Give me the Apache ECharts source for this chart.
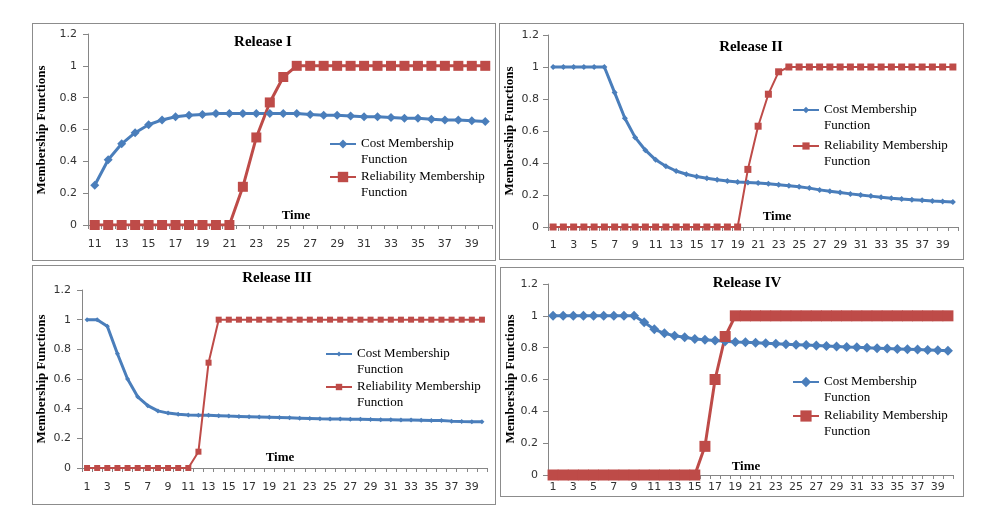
<!DOCTYPE html>
<html>
<head>
<meta charset="utf-8">
<script src="https://cdn.jsdelivr.net/npm/echarts@6/dist/echarts.min.js"></script>
<style>
html,body{margin:0;padding:0;background:#fff;}
body{width:982px;height:529px;position:relative;overflow:hidden;}
.panel{position:absolute;box-sizing:border-box;border:1px solid #8c8c8c;background:#fff;}
</style>
</head>
<body>
<div id="p1" class="panel" style="left:32px;top:23px;width:464px;height:238px"></div>
<div id="p2" class="panel" style="left:499px;top:23px;width:465px;height:237px"></div>
<div id="p3" class="panel" style="left:32px;top:265px;width:464px;height:240px"></div>
<div id="p4" class="panel" style="left:500px;top:267px;width:464px;height:230px"></div>
<script>
// time axis categories
const timeI = [11,12,13,14,15,16,17,18,19,20,21,22,23,24,25,26,27,28,29,30,31,32,33,34,35,36,37,38,39,40];
const time40 = [1,2,3,4,5,6,7,8,9,10,11,12,13,14,15,16,17,18,19,20,21,22,23,24,25,26,27,28,29,30,31,32,33,34,35,36,37,38,39,40];

// Release I
const costI = [0.25,0.41,0.51,0.58,0.63,0.66,0.68,0.69,0.695,0.70,
  0.70,0.70,0.70,0.70,0.70,0.70,0.695,0.69,0.69,0.685,
  0.68,0.68,0.675,0.67,0.67,0.665,0.66,0.66,0.655,0.65];
const relI = [0,0,0,0,0,0,0,0,0,0,0,0.24,0.55,0.77,0.93,
  1,1,1,1,1,1,1,1,1,1,1,1,1,1,1];

// Release II
const costII = [1,1,1,1,1,1,0.84,0.68,0.56,0.48,
  0.42,0.38,0.35,0.33,0.315,0.305,0.295,0.288,0.281,0.278,
  0.275,0.27,0.264,0.258,0.252,0.243,0.232,0.223,0.215,0.207,
  0.2,0.193,0.186,0.18,0.175,0.171,0.167,0.163,0.16,0.157];
const relII = [0,0,0,0,0,0,0,0,0,0,0,0,0,0,0,0,0,0,0,0.36,
  0.63,0.83,0.97,1,1,1,1,1,1,1,1,1,1,1,1,1,1,1,1,1];

// Release III
const costIII = [1,1,0.955,0.77,0.6,0.48,0.42,0.385,0.37,0.363,
  0.358,0.356,0.355,0.353,0.35,0.348,0.346,0.344,0.342,0.34,
  0.338,0.336,0.334,0.332,0.331,0.33,0.329,0.328,0.327,0.326,
  0.325,0.324,0.323,0.322,0.321,0.32,0.316,0.313,0.312,0.311];
const relIII = [0,0,0,0,0,0,0,0,0,0,0,0.11,0.71,1,1,1,1,1,1,1,
  1,1,1,1,1,1,1,1,1,1,1,1,1,1,1,1,1,1,1,1];

// Release IV
const costIV = [1,1,1,1,1,1,1,1,1,0.96,
  0.915,0.89,0.875,0.865,0.855,0.85,0.845,0.84,0.836,0.834,
  0.831,0.828,0.825,0.822,0.819,0.816,0.813,0.81,0.807,0.804,
  0.802,0.799,0.797,0.794,0.792,0.79,0.788,0.786,0.783,0.781];
const relIV = [0,0,0,0,0,0,0,0,0,0,0,0,0,0,0,0.18,0.6,0.87,1,1,
  1,1,1,1,1,1,1,1,1,1,1,1,1,1,1,1,1,1,1,1];

const COST = 'Cost Membership Function';
const REL = 'Reliability Membership Function';
const blue = '#4a7ebb';
const red = '#be4b48';
const axisGrey = '#868686';

const panels = [
  {id:'p1', title:'Release I', time:timeI, cost:costI, rel:relI,
   grid:{left:55, top:10, right:3, bottom:35}, titleXY:[230,18], timeXY:[263,192], yNameXY:[9,106],
   xMargin:14, yMargin:11,
   leg:{x:296, y1:120, y2:153}, costSym:9, relSym:10, costW:3, relW:3},
  {id:'p2', title:'Release II', time:time40, cost:costII, rel:relII,
   grid:{left:48, top:11, right:5, bottom:32}, titleXY:[251,23], timeXY:[277,193], yNameXY:[10,107],
   xMargin:13, yMargin:9,
   leg:{x:292, y1:86, y2:122}, costSym:6, relSym:7, costW:3, relW:2},
  {id:'p3', title:'Release III', time:time40, cost:costIII, rel:relIII,
   grid:{left:49, top:24, right:8, bottom:36}, titleXY:[244,12], timeXY:[247,192], yNameXY:[9,113],
   xMargin:14, yMargin:11,
   leg:{x:292, y1:88, y2:121}, costSym:5, relSym:6, costW:3, relW:2},
  {id:'p4', title:'Release IV', time:time40, cost:costIV, rel:relIV,
   grid:{left:47, top:16, right:10, bottom:21}, titleXY:[246,15], timeXY:[245,199], yNameXY:[10,111],
   xMargin:7, yMargin:10,
   leg:{x:291, y1:114, y2:148}, costSym:10, relSym:11, costW:3, relW:3}
];

// legend text: empty first line so the icon sits beside "... Membership"
function legendItem(name, p, top, sym) {
  return {
    data: [name],
    orient: 'vertical',
    left: p.leg.x,
    top: top - 24,
    padding: 0,
    itemWidth: 26,
    itemHeight: Math.round(sym / 0.8),
    selectedMode: false,
    formatter: (n) => '\n' + n.replace(' Function', '\nFunction'),
    textStyle: {fontFamily: 'Liberation Serif', fontSize: 13, color: '#000', lineHeight: 16}
  };
}

function makeOption(p) {
  return {
    animation: false,
    textStyle: {fontFamily: 'DejaVu Sans'},
    grid: Object.assign({outerBoundsMode: 'none', containLabel: false}, p.grid),
    graphic: [
      {type: 'text', x: p.titleXY[0], y: p.titleXY[1],
       style: {text: p.title, font: 'bold 15px "Liberation Serif"', fill: '#000', align: 'center', verticalAlign: 'middle'}},
      {type: 'text', x: p.timeXY[0], y: p.timeXY[1],
       style: {text: 'Time', font: 'bold 13px "Liberation Serif"', fill: '#000', align: 'center', verticalAlign: 'middle'}},
      {type: 'text', x: p.yNameXY[0], y: p.yNameXY[1], rotation: Math.PI / 2,
       style: {text: 'Membership Functions', font: 'bold 13px "Liberation Serif"', fill: '#000', align: 'center', verticalAlign: 'middle'}}
    ],
    xAxis: {
      type: 'category',
      data: p.time,
      boundaryGap: true,
      axisLine: {lineStyle: {color: axisGrey, width: 1}},
      axisTick: {show: true, interval: 0, length: 4, lineStyle: {color: axisGrey}},
      axisLabel: {interval: 1, fontSize: 11, color: '#333', margin: p.xMargin},
      splitLine: {show: false}
    },
    yAxis: {
      type: 'value',
      min: 0, max: 1.2, interval: 0.2,
      axisLine: {show: true, lineStyle: {color: axisGrey, width: 1}},
      axisTick: {show: true, length: 5, lineStyle: {color: axisGrey}},
      axisLabel: {fontSize: 11, color: '#333', margin: p.yMargin},
      splitLine: {show: false}
    },
    legend: [legendItem(COST, p, p.leg.y1, p.costSym), legendItem(REL, p, p.leg.y2, p.relSym)],
    series: [
      {name: COST, type: 'line', data: p.cost, symbol: 'diamond', symbolSize: p.costSym, showAllSymbol: true,
       lineStyle: {color: blue, width: p.costW}, itemStyle: {color: blue}},
      {name: REL, type: 'line', data: p.rel, symbol: 'rect', symbolSize: p.relSym, showAllSymbol: true,
       lineStyle: {color: red, width: p.relW}, itemStyle: {color: red}}
    ]
  };
}

panels.forEach((p) => {
  const chart = echarts.init(document.getElementById(p.id), null, {renderer: 'canvas'});
  chart.setOption(makeOption(p));
});
</script>
</body>
</html>
